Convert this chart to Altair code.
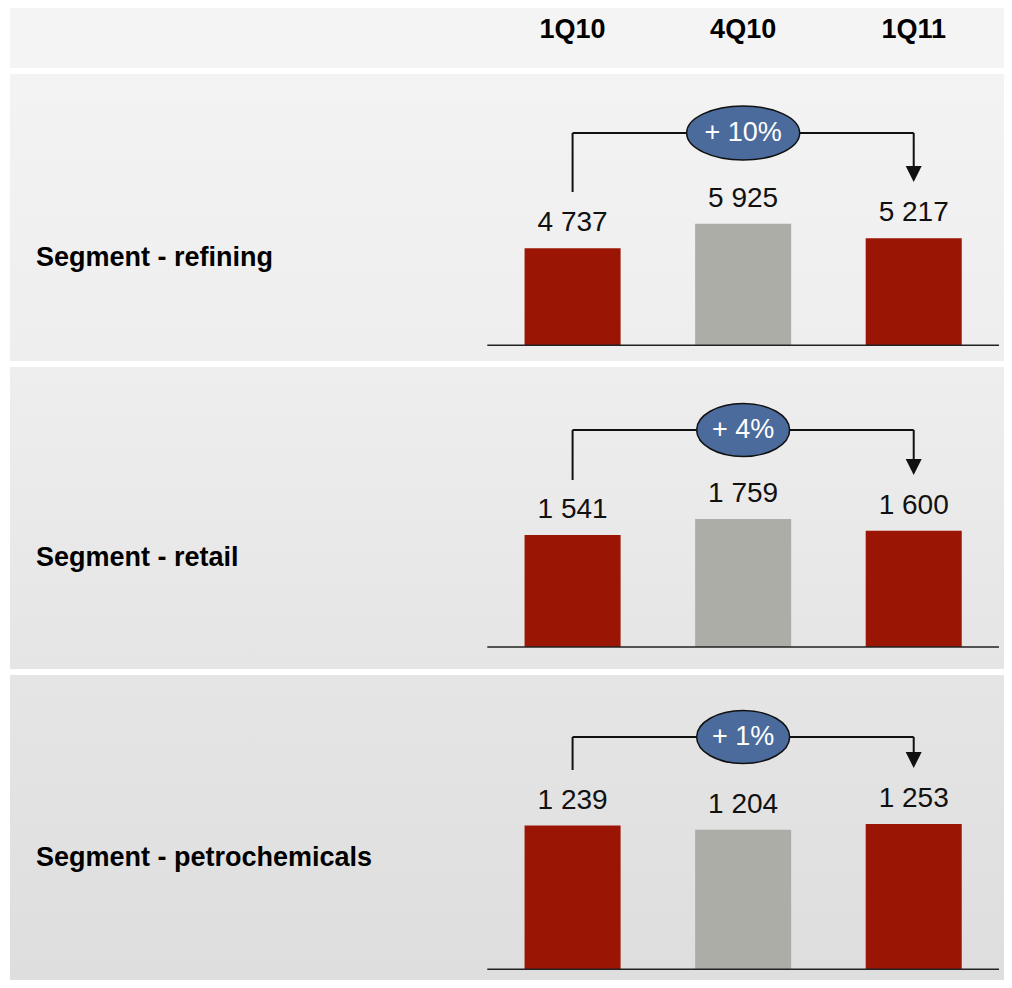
import altair as alt
import pandas as pd

# ---------------- data ----------------
quarters = ["1Q10", "4Q10", "1Q11"]
segments = ["Segment - refining", "Segment - retail", "Segment - petrochemicals"]
refining = [4737, 5925, 5217]
retail = [1541, 1759, 1600]
petrochemicals = [1239, 1204, 1253]
changes = ["+ 10%", "+ 4%", "+ 1%"]
bar_colors = ["#9a1504", "#adada8", "#9a1504"]

# ---------------- layout / style ----------------
W = 994
XR = [477.3, 989]
FONT = "Liberation Sans, Arial, Helvetica, sans-serif"
ELLIPSE_COLOR = "#4a6b9b"

layouts = [
    dict(h=287, base=271.3, scale=0.0205, line_y=59, left_end=118, tip=108,
         ell_w=113, ell_h=54, label_y=184, grad=("#f3f3f3", "#eeeeee")),
    dict(h=302, base=280, scale=0.0727, line_y=63, left_end=113, tip=108,
         ell_w=93, ell_h=53, label_y=191, grad=("#eeeeee", "#e5e5e5")),
    dict(h=305, base=294.3, scale=0.116, line_y=62, left_end=95, tip=93,
         ell_w=93, ell_h=53, label_y=183, grad=("#e5e5e5", "#dedede")),
]


def xscale():
    return alt.Scale(domain=quarters, range=XR, paddingInner=0.437, paddingOuter=0.2185)


def background(h, top, bottom):
    grad = alt.LinearGradient(
        gradient="linear",
        stops=[alt.GradientStop(color=top, offset=0), alt.GradientStop(color=bottom, offset=1)],
        x1=0, x2=0, y1=0, y2=1,
    )
    return alt.Chart(pd.DataFrame({"k": [0]})).mark_rect(color=grad).encode(
        x=alt.value(0), x2=alt.value(W), y=alt.value(0), y2=alt.value(h)
    )


def qx(q):
    return alt.X(datum=q, type="nominal", scale=xscale(), axis=None)


# header
hdr = pd.DataFrame({"quarter": quarters})
header = alt.layer(
    background(60, "#f4f4f4", "#f4f4f4"),
    alt.Chart(hdr).mark_text(font=FONT, fontWeight="bold", fontSize=27, color="#000",
                             baseline="middle").encode(
        x=alt.X("quarter:N", scale=xscale(), axis=None, sort=quarters),
        y=alt.value(22),
        text="quarter:N",
    ),
).properties(width=W, height=60)


def panel(seg, vals, chg, L):
    df = pd.DataFrame({
        "quarter": quarters,
        "value": vals,
        "label": [f"{v:,}".replace(",", " ") for v in vals],
    })
    ys = alt.Scale(domain=[0, L["base"] / L["scale"]], range=[L["base"], 0])
    x = alt.X("quarter:N", scale=xscale(), axis=None, sort=quarters)
    y = alt.Y("value:Q", scale=ys, axis=None)
    one = pd.DataFrame({"k": [0]})

    bars = alt.Chart(df).mark_bar().encode(
        x=x, y=y,
        color=alt.Color("quarter:N", scale=alt.Scale(domain=quarters, range=bar_colors), legend=None),
    )
    labels = alt.Chart(df).mark_text(font=FONT, fontSize=28, dy=-25, baseline="middle",
                                     color="#111").encode(x=x, y=y, text="label:N")
    baseline = alt.Chart(one).mark_rule(color="#222", strokeWidth=1.5).encode(
        x=alt.value(XR[0]), x2=alt.value(XR[1]),
        y=alt.Y(datum=0, type="quantitative", scale=ys, axis=None),
    )
    hline = alt.Chart(one).mark_rule(color="#111", strokeWidth=2).encode(
        x=qx(quarters[0]), x2=alt.X2(datum=quarters[2]), y=alt.value(L["line_y"])
    )
    lline = alt.Chart(one).mark_rule(color="#111", strokeWidth=2).encode(
        x=qx(quarters[0]), y=alt.value(L["line_y"]), y2=alt.value(L["left_end"])
    )
    rline = alt.Chart(one).mark_rule(color="#111", strokeWidth=2).encode(
        x=qx(quarters[2]), y=alt.value(L["line_y"]), y2=alt.value(L["tip"] - 12)
    )
    arrow = alt.Chart(one).mark_point(shape="M-1,-1L1,-1L0,1Z", filled=True, color="#111",
                                      size=256, opacity=1).encode(
        x=qx(quarters[2]), y=alt.value(L["tip"] - 8)
    )
    ry = L["ell_h"] / L["ell_w"]
    ell_path = f"M-1,0A1,{ry:.3f},0,1,0,1,0A1,{ry:.3f},0,1,0,-1,0Z"
    ellipse = alt.Chart(one).mark_point(shape=ell_path, filled=True, fill=ELLIPSE_COLOR,
                                        stroke="#111", strokeWidth=1.5, opacity=1,
                                        fillOpacity=1, size=L["ell_w"] ** 2).encode(
        x=qx(quarters[1]), y=alt.value(L["line_y"])
    )
    ell_text = alt.Chart(one).mark_text(font=FONT, fontSize=27, color="white",
                                        baseline="middle").encode(
        x=qx(quarters[1]), y=alt.value(L["line_y"]), text=alt.value(chg)
    )
    seg_label = alt.Chart(one).mark_text(font=FONT, fontWeight="bold", fontSize=27, align="left",
                                         baseline="middle", color="#000").encode(
        x=alt.value(26), y=alt.value(L["label_y"]), text=alt.value(seg)
    )
    return alt.layer(
        background(L["h"], *L["grad"]), bars, labels, baseline,
        hline, lline, rline, arrow, ellipse, ell_text, seg_label,
    ).properties(width=W, height=L["h"])


series = [refining, retail, petrochemicals]
panels = [panel(segments[i], series[i], changes[i], layouts[i]) for i in range(3)]

chart = alt.vconcat(header, *panels, spacing=6).resolve_scale(
    x="independent", y="independent", color="independent"
).properties(
    padding={"left": 2, "top": 0, "right": 0, "bottom": 0}
).configure_view(stroke=None)

chart.save("out.html", embed_options={"renderer": "svg", "actions": False})
